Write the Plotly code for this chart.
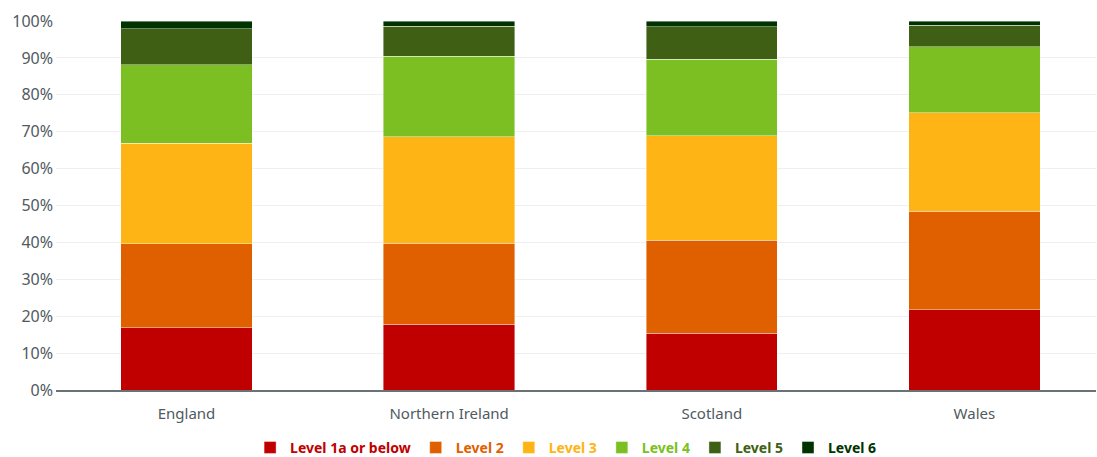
import plotly.graph_objects as go

# Share of people at each proficiency level, by nation (%)
nations = ["England", "Northern Ireland", "Scotland", "Wales"]
level_names = ["Level 1a or below", "Level 2", "Level 3", "Level 4", "Level 5", "Level 6"]
level_1a_or_below = [16.9, 17.8, 15.4, 21.8]
level_2 = [22.8, 22.0, 25.2, 26.6]
level_3 = [27.2, 28.8, 28.3, 26.7]
level_4 = [21.2, 21.9, 20.8, 17.9]
level_5 = [9.8, 8.1, 8.8, 5.9]
level_6 = [2.1, 1.4, 1.5, 1.1]

series = [level_1a_or_below, level_2, level_3, level_4, level_5, level_6]
colors = ["#c00000", "#e06000", "#fdb414", "#7bbf22", "#3e5f14", "#013300"]

y_ticks = list(range(0, 101, 10))
y_tick_labels = [f"{v}%" for v in y_ticks]

FONT = "Noto Sans, Open Sans, sans-serif"

fig = go.Figure()
for name, values, color in zip(level_names, series, colors):
    fig.add_trace(go.Bar(
        x=nations,
        y=values,
        name=f"<b><span style='color:{color}'>{name}</span></b>",
        marker=dict(color=color, line=dict(color="rgba(255,255,255,0.7)", width=0.6)),
        width=0.5,
        hovertemplate="%{x}: %{y:.1f}%<extra>" + name + "</extra>",
    ))

fig.update_layout(
    barmode="stack",
    width=1097,
    height=457,
    margin=dict(l=56, r=1, t=21, b=67),
    paper_bgcolor="white",
    plot_bgcolor="white",
    font=dict(family=FONT, size=15, color="#505a5f"),
    legend=dict(
        orientation="h",
        x=0.49,
        xanchor="center",
        yref="container",
        y=0.02,
        yanchor="middle",
        font=dict(size=14),
        traceorder="normal",
        itemclick=False,
    ),
    xaxis=dict(
        range=[-0.497, 3.463],
        showgrid=False,
        showline=True,
        linecolor="#6b7276",
        linewidth=1.5,
        ticks="",
        tickfont=dict(size=15, color="#505a5f"),
        ticklabelstandoff=9,
    ),
    yaxis=dict(
        range=[0, 100],
        tickvals=y_ticks,
        ticktext=y_tick_labels,
        showgrid=True,
        gridcolor="#efefef",
        gridwidth=1,
        zeroline=False,
        ticks="",
        tickfont=dict(size=16, color="#505a5f"),
        ticklabelstandoff=2,
    ),
    bargap=0.5,
)

fig.write_html("out.html")
